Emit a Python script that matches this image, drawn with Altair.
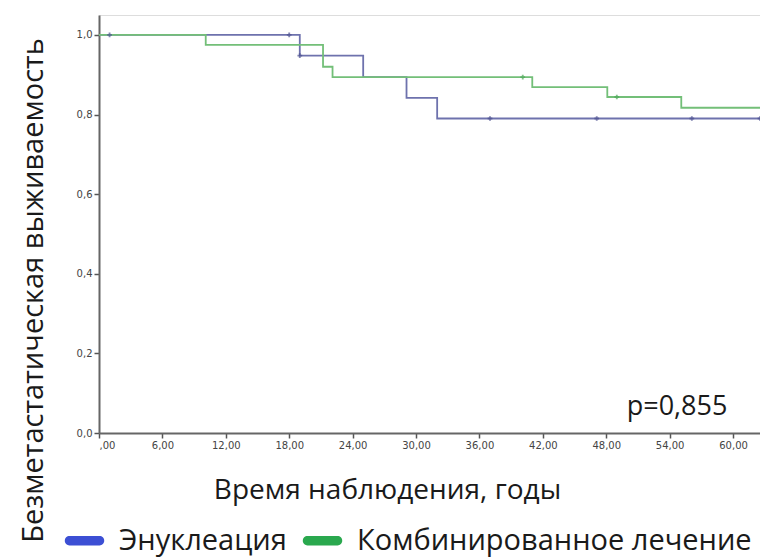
import altair as alt
import pandas as pd

# Kaplan-Meier step data
blue_name = "Энуклеация"
green_name = "Комбинированное лечение"

x_max = 62.55

blue_t = [0.0, 19.0, 25.0, 29.1, 32.0, x_max]
blue_s = [1.0, 0.948, 0.894, 0.842, 0.790, 0.790]
green_t = [0.0, 10.1, 21.2, 22.1, 41.0, 48.1, 55.1, x_max]
green_s = [1.0, 0.975, 0.920, 0.894, 0.869, 0.844, 0.817, 0.817]

blue_cens_t = [1.0, 18.0, 19.0, 37.0, 47.1, 56.1, x_max]
blue_cens_s = [1.0, 1.0, 0.948, 0.790, 0.790, 0.790, 0.790]
green_cens_t = [40.1, 49.0]
green_cens_s = [0.894, 0.844]

x_ticks = [0, 6, 12, 18, 24, 30, 36, 42, 48, 54, 60]
y_ticks = [0.0, 0.2, 0.4, 0.6, 0.8, 1.0]
p_label = "p=0,855"

lines = pd.DataFrame(
    [{"t": t, "s": s, "g": blue_name} for t, s in zip(blue_t, blue_s)]
    + [{"t": t, "s": s, "g": green_name} for t, s in zip(green_t, green_s)]
)
cens = pd.DataFrame(
    [{"t": t, "s": s, "g": blue_name} for t, s in zip(blue_cens_t, blue_cens_s)]
    + [{"t": t, "s": s, "g": green_name} for t, s in zip(green_cens_t, green_cens_s)]
)

line_colors = ["#6e72ad", "#73bf78"]
legend_colors = ["#3c4fd4", "#2aa84e"]

xscale = alt.Scale(domain=[0, x_max], nice=False, zero=False)
yscale = alt.Scale(domain=[0, 1.05], nice=False)

pill = "M-1.1,-0.34 L1.1,-0.34 A0.34,0.34 0 0 1 1.1,0.34 L-1.1,0.34 A0.34,0.34 0 0 1 -1.1,-0.34 Z"

x_axis = alt.Axis(
    values=x_ticks,
    labelExpr="datum.value == 0 ? ',00' : replace(format(datum.value, '.2f'), '.', ',')",
    title="Время наблюдения, годы",
    titleFontSize=28,
    titleFont="Open Sans",
    titleFontWeight="normal",
    titleColor="#1a1a1a",
    titleX=288,
    titleY=57,
    titleAnchor="middle",
    titleBaseline="middle",
    labelFontSize=10,
    labelColor="#444",
    labelFont="DejaVu Sans",
    tickColor="#555",
    tickSize=5,
    tickWidth=1.5,
    domainColor="#666",
    domainWidth=2,
    grid=False,
    labelPadding=2,
)
y_axis = alt.Axis(
    values=y_ticks,
    labelExpr="replace(format(datum.value, '.1f'), '.', ',')",
    title="Безметастатическая выживаемость",
    titleFontSize=29,
    titleFont="Open Sans",
    titleFontWeight="normal",
    titleColor="#1a1a1a",
    titleAngle=-90,
    titleX=-66,
    titleY=275,
    titleAlign="center",
    titleBaseline="middle",
    labelFontSize=10,
    labelColor="#444",
    labelFont="DejaVu Sans",
    tickColor="#555",
    tickSize=5,
    tickWidth=1.5,
    domainColor="#666",
    domainWidth=2,
    grid=False,
    labelPadding=2,
)

color = alt.Color(
    "g:N",
    scale=alt.Scale(domain=[blue_name, green_name], range=legend_colors),
    legend=alt.Legend(
        orient="none",
        legendX=-29,
        legendY=511,
        direction="horizontal",
        title=None,
        padding=0,
        symbolType=pill,
        symbolSize=750,
        symbolStrokeWidth=0,
        labelFontSize=29,
        labelFont="Open Sans",
        labelColor="#1a1a1a",
        labelOffset=20,
        labelLimit=600,
        columnPadding=15,
        symbolOpacity=1,
    ),
)

line_layer = (
    alt.Chart(lines)
    .mark_line(interpolate="step-after", strokeWidth=1.8)
    .encode(
        x=alt.X("t:Q", scale=xscale, axis=x_axis),
        y=alt.Y("s:Q", scale=yscale, axis=y_axis),
        color=alt.Color("g:N", scale=alt.Scale(domain=[blue_name, green_name], range=line_colors), legend=None),
        detail="g:N",
    )
)

legend_layer = (
    alt.Chart(lines)
    .mark_point(opacity=0, filled=True)
    .encode(x="t:Q", y="s:Q", color=color)
)

cens_layer = (
    alt.Chart(cens)
    .mark_point(shape="cross", filled=True, size=22)
    .encode(
        x="t:Q",
        y="s:Q",
        fill=alt.Fill("g:N", scale=alt.Scale(domain=[blue_name, green_name], range=["#4d5190", "#4fa85a"]), legend=None),
    )
)

p_text = (
    alt.Chart(pd.DataFrame({"label": [p_label], "t": [54.7], "s": [0.065]}))
    .mark_text(fontSize=27, font="Open Sans", color="#1a1a1a", align="center", baseline="middle")
    .encode(x="t:Q", y="s:Q", text="label:N")
)

chart = (
    alt.layer(line_layer, cens_layer, legend_layer, p_text)
    .resolve_scale(color="independent")
    .properties(
        width=661,
        height=418,
        autosize=alt.AutoSizeParams(type="none"),
        padding={"left": 91, "top": 7, "right": 0, "bottom": 125},
    )
    .configure_view(stroke="#8a8a8a", strokeWidth=2)
    .configure(background="white")
)

chart.save("out.html", embed_options={"renderer": "svg", "actions": False})
